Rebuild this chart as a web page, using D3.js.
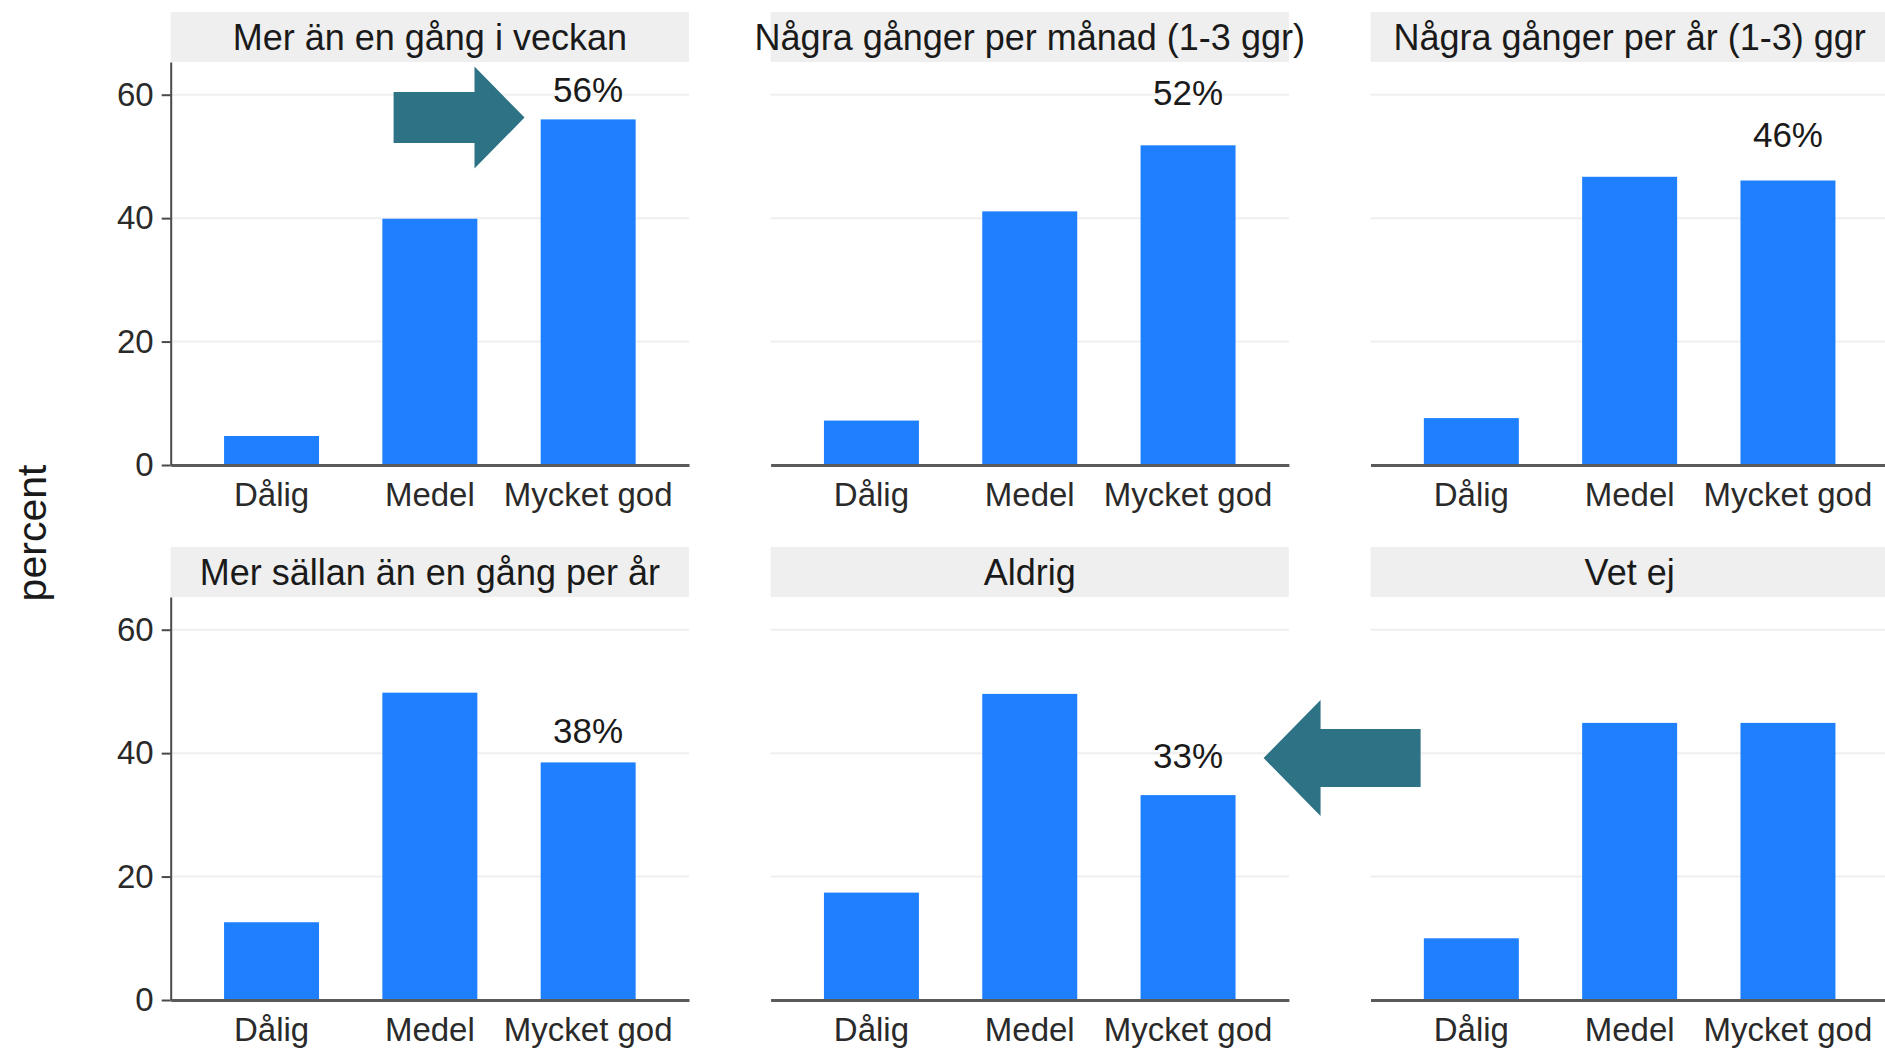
<!DOCTYPE html>
<html><head><meta charset="utf-8">
<script src="https://cdn.jsdelivr.net/npm/d3@7"></script>
<style>
body{margin:0;background:#fff;}
text{font-family:"Liberation Sans",Arial,Helvetica,sans-serif;}
</style>
</head><body>
<svg id="c" width="1885" height="1050"></svg>
<script>
// ---- data ----
const facets = ["Mer än en gång i veckan", "Några gånger per månad (1-3 ggr)", "Några gånger per år (1-3) ggr",
                "Mer sällan än en gång per år", "Aldrig", "Vet ej"];
const categories = ["Dålig", "Medel", "Mycket god"];
const dalig     = [4.7, 7.2, 7.6, 12.6, 17.4, 10.0];
const medel     = [39.9, 41.1, 46.7, 49.8, 49.6, 44.9];
const mycketGod = [56.0, 51.8, 46.1, 38.5, 33.2, 44.9];
const highlightLabels = ["56%", "52%", "46%", "38%", "33%", null];
const highlightLabelAt = [60.8, 60.3, 53.5, 43.6, 39.6, null];
const yTicks = [0, 20, 40, 60];
const yLabel = "percent";

// ---- annotation arrows (in data units: category index / percent) ----
const arrows = [
  {panel: 0, tip: [1.598, 56.3], base: 1.282, tail: 0.771, headHalf: 8.26, shaftHalf: 4.13},
  {panel: 4, tip: [2.477, 39.2], base: 2.837, tail: 3.469, headHalf: 9.4, shaftHalf: 4.7}
];

// ---- layout ----
const svg = d3.select("#c");
const left = 170.7, top0 = 12;
const panelW = 518.3, gapX = 81.6, stripH = 50, plotH = 403, rowStep = 535;
const barColor = "#1f80ff";

const y = d3.scaleLinear().domain([0, 65.3]).range([plotH, 0]);
const x = d3.scaleBand().domain(categories).range([0, panelW]).paddingInner(0.4).paddingOuter(0.337);
const bw = x.bandwidth();
const xi = d3.scaleLinear().domain([0, 2]).range([x(categories[0]) + bw / 2, x(categories[2]) + bw / 2]);

function panelOrigin(i) {
  const col = i % 3, row = Math.floor(i / 3);
  return [left + col * (panelW + gapX), top0 + row * rowStep];
}

facets.forEach((f, i) => {
  const [ox, oy] = panelOrigin(i);
  const g = svg.append("g").attr("transform", `translate(${ox},${oy})`);
  g.append("rect").attr("width", panelW).attr("height", stripH).attr("fill", "#efefef");
  g.append("text").attr("x", panelW / 2).attr("y", stripH / 2).attr("dy", "0.36em")
    .attr("text-anchor", "middle").attr("font-size", 36).attr("fill", "#1a1a1a").text(f);

  const p = g.append("g").attr("transform", `translate(0,${stripH})`);
  p.selectAll("line.grid").data(yTicks.filter(t => t > 0)).join("line").attr("class", "grid")
    .attr("x1", 0).attr("x2", panelW).attr("y1", d => y(d)).attr("y2", d => y(d))
    .attr("stroke", "#efefef").attr("stroke-width", 2);

  const vals = [dalig[i], medel[i], mycketGod[i]];
  p.selectAll("rect.bar").data(categories.map((c, k) => ({c, v: vals[k]}))).join("rect").attr("class", "bar")
    .attr("x", d => x(d.c)).attr("width", bw)
    .attr("y", d => y(d.v)).attr("height", d => plotH - y(d.v)).attr("fill", barColor);

  // x axis
  const xa = p.append("g").attr("transform", `translate(0,${plotH})`)
    .call(d3.axisBottom(x).tickSize(0).tickSizeOuter(0).tickPadding(18));
  xa.select(".domain").attr("stroke", "#5a5a5a").attr("stroke-width", 3);
  xa.selectAll("text").attr("font-size", 33).attr("fill", "#2a2a2a");

  // y axis on the left column
  if (i % 3 === 0) {
    const ya = p.append("g").call(d3.axisLeft(y).tickValues(yTicks).tickSize(9).tickSizeOuter(0).tickPadding(8));
    ya.select(".domain").attr("stroke", "#4a4a4a").attr("stroke-width", 2);
    ya.selectAll(".tick line").attr("stroke", "#4a4a4a").attr("stroke-width", 2);
    ya.selectAll("text").attr("font-size", 33).attr("fill", "#2a2a2a");
  }

  if (highlightLabels[i]) {
    p.append("text").attr("x", x("Mycket god") + bw / 2).attr("y", y(highlightLabelAt[i]))
      .attr("dy", "0.35em").attr("text-anchor", "middle").attr("font-size", 35).attr("fill", "#1a1a1a")
      .text(highlightLabels[i]);
  }
});

// arrows overlay
arrows.forEach(a => {
  const [ox, oy] = panelOrigin(a.panel);
  const g = svg.append("g").attr("transform", `translate(${ox},${oy + stripH})`);
  const tx = xi(a.tip[0]), ty = y(a.tip[1]);
  const bx = xi(a.base), lx = xi(a.tail);
  const hh = y(0) - y(a.headHalf), sh = y(0) - y(a.shaftHalf);
  const pts = [[lx, ty + sh], [bx, ty + sh], [bx, ty + hh], [tx, ty], [bx, ty - hh], [bx, ty - sh], [lx, ty - sh]];
  g.append("path").attr("d", d3.line()(pts) + "Z").attr("fill", "#2d7385");
});

// y label
svg.append("text").attr("transform", "translate(32,533) rotate(-90)").attr("dy", "0.35em")
  .attr("text-anchor", "middle").attr("font-size", 41).attr("fill", "#1a1a1a").text(yLabel);
</script>
</body></html>
